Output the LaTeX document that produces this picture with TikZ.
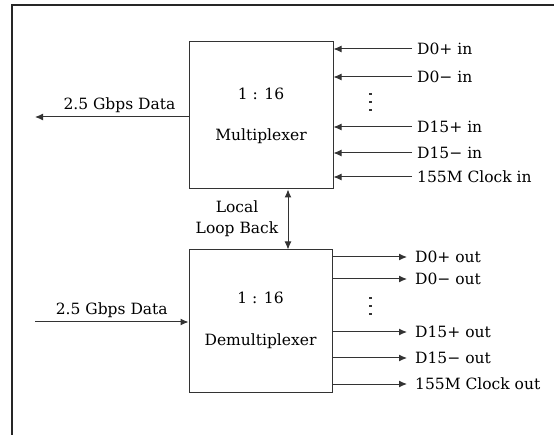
\documentclass[tikz,border=0pt]{standalone}
\usepackage{fontspec}
\setmainfont{DejaVu Serif}
\usetikzlibrary{arrows.meta}

\begin{document}
\begin{tikzpicture}[x=1pt,y=-1pt,
	>={Latex[length=8pt,width=7pt]},
	font=\fontsize{15.5}{21}\selectfont,
	block/.style={draw=black!80,line width=1pt,minimum width=144pt,minimum height=147pt},
	wire/.style={draw=black!80,line width=1pt},
	sig/.style={anchor=west,inner sep=5pt,text height=11pt,text depth=0pt},
	dot/.style={fill=black!80,minimum size=2.2pt,inner sep=0pt}]
	\useasboundingbox (0,0) rectangle (554,435);
	% frame, open to the right and bottom
	\draw[black!85,line width=1.3pt] (12,450) -- (12,5) -- (570,5);

	\node[block] (mux) at (261,115.5) {};
	\node (muxratio) at (261,94) {1 : 16};
	\node (muxname) at (261,136) {Multiplexer};

	\node[block,minimum width=143pt,minimum height=142pt] (demux) at (260.5,321) {};
	\node (demuxratio) at (260.5,298) {1 : 16};
	\node (demuxname) at (260.5,341) {Demultiplexer};

	% parallel inputs
	\foreach \y/\name/\txt in {49/d0pin/D0+ in, 77/d0nin/D0− in, 127/d15pin/D15+ in, 153/d15nin/D15− in, 177/clkin/155M Clock in}
	{
		\node[sig] (\name) at (412,\y) {\txt};
		\draw[wire,->] (\name.west) -- (\name.west -| mux.east);
	}
	\foreach \y in {94,102,110}
		\node[dot] at (370.5,\y) {};

	% parallel outputs
	\foreach \y/\name/\txt in {257/d0pout/D0+ out, 279/d0nout/D0− out, 332/d15pout/D15+ out, 358/d15nout/D15− out, 384/clkout/155M Clock out}
	{
		\node[sig] (\name) at (410,\y) {\txt};
		\draw[wire,->,shorten >=3pt] (\name.west -| demux.east) -- (\name.west);
	}
	\foreach \y in {298,306,314}
		\node[dot] at (370.5,\y) {};

	% serial side
	\coordinate (dataout) at (35,117);
	\draw[wire,->] (mux.west |- dataout) -- (dataout) node[pos=0.45,above,inner sep=4pt] (dataoutlabel) {2.5 Gbps Data};
	\coordinate (datain) at (35,322);
	\draw[wire,->] (datain) -- (datain -| demux.west) node[midway,above,inner sep=4pt] (datainlabel) {2.5 Gbps Data};

	% loop back
	\coordinate (loop) at (288,220);
	\draw[wire,<->] (loop |- mux.south) -- (loop |- demux.north);
	\node[align=center] (looplabel) at (237,219) {Local\\Loop Back};

\end{tikzpicture}
\end{document}
